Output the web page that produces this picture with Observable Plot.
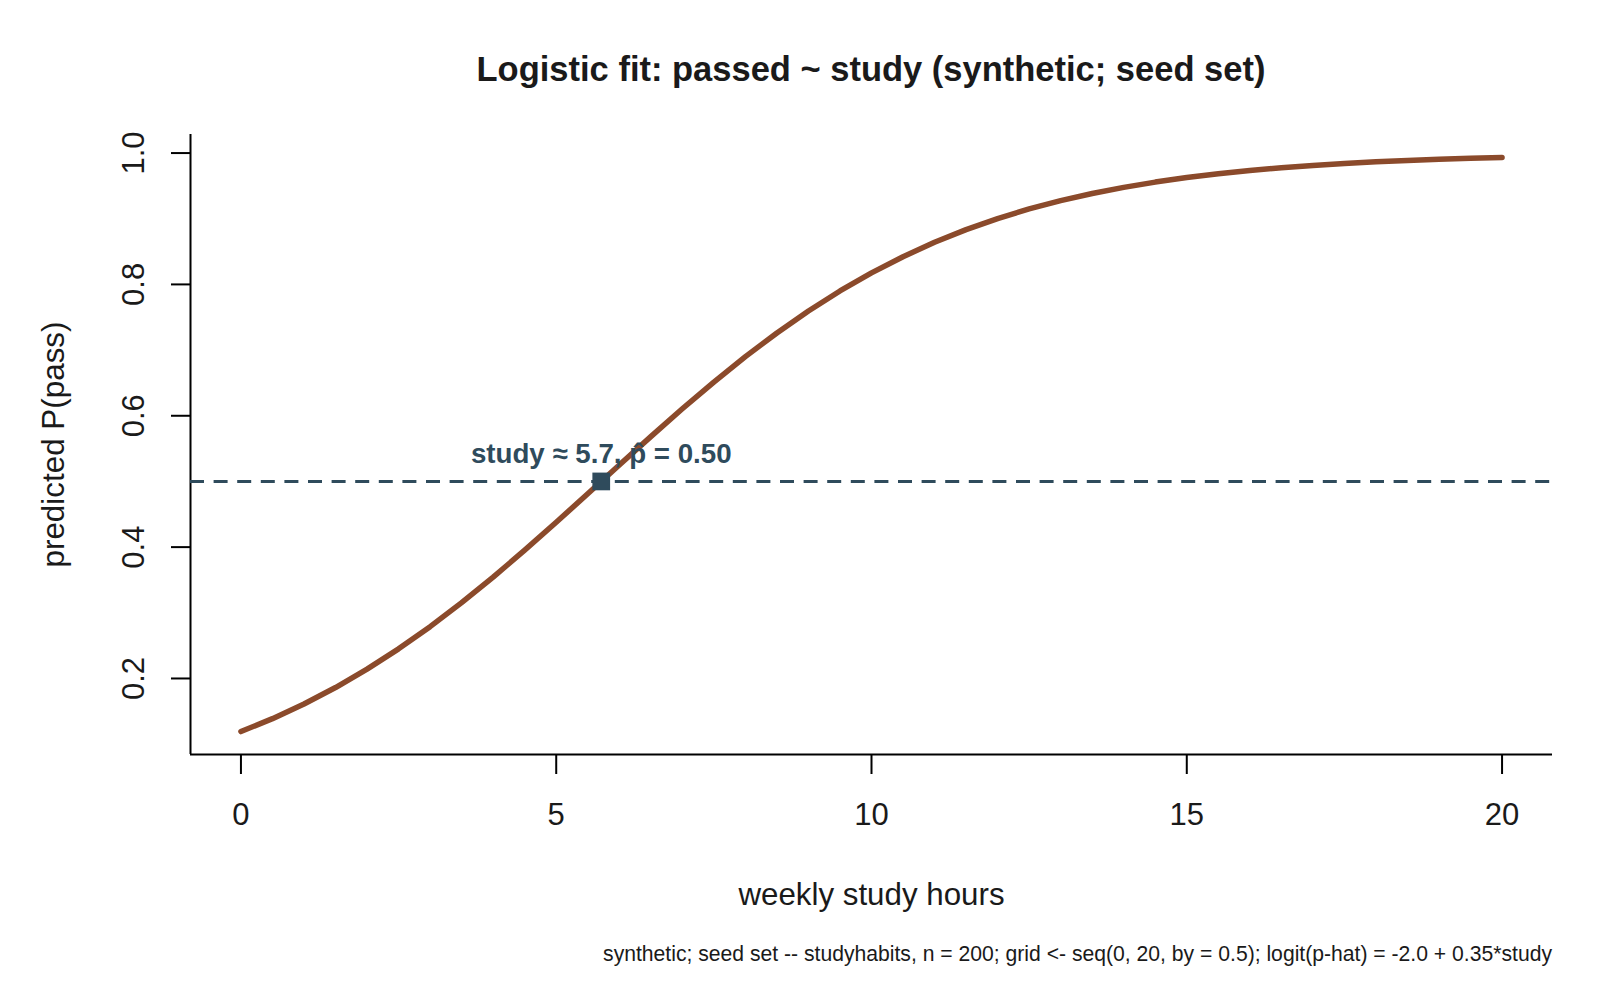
<!DOCTYPE html>
<html>
<head>
<meta charset="utf-8">
<script src="https://cdn.jsdelivr.net/npm/d3@7"></script>
<script src="https://cdn.jsdelivr.net/npm/@observablehq/plot@0.6"></script>
<style>
  html, body { margin: 0; padding: 0; background: #ffffff; }
  #wrap { width: 1600px; height: 1000px; background: #ffffff; font-family: "Liberation Sans", Arial, sans-serif; color: #1a1a1a; }
  #title { height: 100px; box-sizing: border-box; padding: 52px 48px 0 190px; font-size: 34.5px; font-weight: bold; line-height: 1; text-align: center; white-space: nowrap; }
  #chart { height: 820px; }
  #chart svg { display: block; }
  #caption { height: 80px; box-sizing: border-box; padding: 23px 48px 0 0; font-size: 21.15px; line-height: 1; text-align: right; white-space: nowrap; }
</style>
</head>
<body>
<div id="wrap">
  <div id="title">Logistic fit: passed ~ study (synthetic; seed set)</div>
  <div id="chart"></div>
  <div id="caption">synthetic; seed set -- studyhabits, n = 200; grid &lt;- seq(0, 20, by = 0.5); logit(p-hat) = -2.0 + 0.35*study</div>
</div>
<script>
// weekly study hours grid (0 to 20 by 0.5)
const studyHours = [0, 0.5, 1, 1.5, 2, 2.5, 3, 3.5, 4, 4.5, 5, 5.5, 6, 6.5, 7, 7.5, 8, 8.5, 9, 9.5,
  10, 10.5, 11, 11.5, 12, 12.5, 13, 13.5, 14, 14.5, 15, 15.5, 16, 16.5, 17, 17.5, 18, 18.5, 19, 19.5, 20];
// predicted P(pass)
const pPass = [0.1192, 0.1388, 0.1611, 0.1862, 0.2142, 0.2451, 0.2789, 0.3154, 0.3543, 0.3953,
  0.4378, 0.4813, 0.5250, 0.5683, 0.6106, 0.6513, 0.6900, 0.7261, 0.7595, 0.7900,
  0.8176, 0.8422, 0.8641, 0.8834, 0.9002, 0.9149, 0.9276, 0.9385, 0.9478, 0.9558,
  0.9627, 0.9685, 0.9734, 0.9776, 0.9811, 0.9841, 0.9866, 0.9887, 0.9905, 0.9920, 0.9933];
// 50% crossing point
const midStudy = [5.714];
const midP = [0.5];
const midLabel = ["study \u2248 5.7, p\u0302 = 0.50"];
// tick labels
const xTicks = [0, 5, 10, 15, 20];
const yTicks = [0.2, 0.4, 0.6, 0.8, 1.0];

const curve = studyHours.map((h, i) => ({hours: h, p: pPass[i]}));
const mid = midStudy.map((s, i) => ({hours: s, p: midP[i], label: midLabel[i]}));

// R-style 4% axis padding
const pad = (ext) => { const r = ext[1] - ext[0]; return [ext[0] - 0.04 * r, ext[1] + 0.04 * r]; };
const xDomain = pad(d3.extent(studyHours));
const yDomain = pad(d3.extent(pPass));

const slate = "#2F4B5C";
const brown = "#8B4A2B";
const font = "'Liberation Sans', Arial, sans-serif";

const chart = Plot.plot({
  width: 1600,
  height: 820,
  marginTop: 34,
  marginBottom: 166,
  marginLeft: 190,
  marginRight: 48,
  style: {fontFamily: font, fontSize: "31px", color: "#1a1a1a", background: "#ffffff", overflow: "visible"},
  x: {domain: xDomain, label: null},
  y: {domain: yDomain, label: null},
  marks: [
    Plot.axisX({ticks: xTicks, tickSize: 20, tickPadding: 28, strokeWidth: 2, stroke: "#000", fill: "#1a1a1a", label: null}),
    Plot.axisY({ticks: yTicks, tickFormat: d3.format(".1f"), tickRotate: -90, textAnchor: "middle", lineAnchor: "bottom",
      tickSize: 19, tickPadding: 28, strokeWidth: 2, stroke: "#000", fill: "#1a1a1a", label: null}),
    Plot.ruleX([xDomain[0]], {stroke: "#000", strokeWidth: 2}),
    Plot.ruleY([yDomain[0]], {stroke: "#000", strokeWidth: 2}),
    Plot.line(curve, {x: "hours", y: "p", stroke: brown, strokeWidth: 5.5, strokeLinecap: "round", strokeLinejoin: "round"}),
    Plot.ruleY(midP, {stroke: slate, strokeWidth: 3, strokeDasharray: "14,9.6"}),
    Plot.dot(mid, {x: "hours", y: "p", symbol: "square", r: 10, fill: slate, stroke: "none"}),
    Plot.text(mid, {x: "hours", y: "p", text: "label", dy: -18.5, lineAnchor: "bottom", textAnchor: "middle",
      fontSize: 27.7, fontWeight: "bold", fill: slate}),
    Plot.text(["weekly study hours"], {frameAnchor: "bottom", dy: 150, lineAnchor: "bottom", textAnchor: "middle", fontSize: 31.3, fill: "#1a1a1a"}),
    Plot.text(["predicted P(pass)"], {frameAnchor: "left", dx: -126.5, rotate: -90, lineAnchor: "bottom", textAnchor: "middle", fontSize: 31.4, fill: "#1a1a1a"})
  ]
});
document.getElementById("chart").appendChild(chart);
</script>
</body>
</html>
